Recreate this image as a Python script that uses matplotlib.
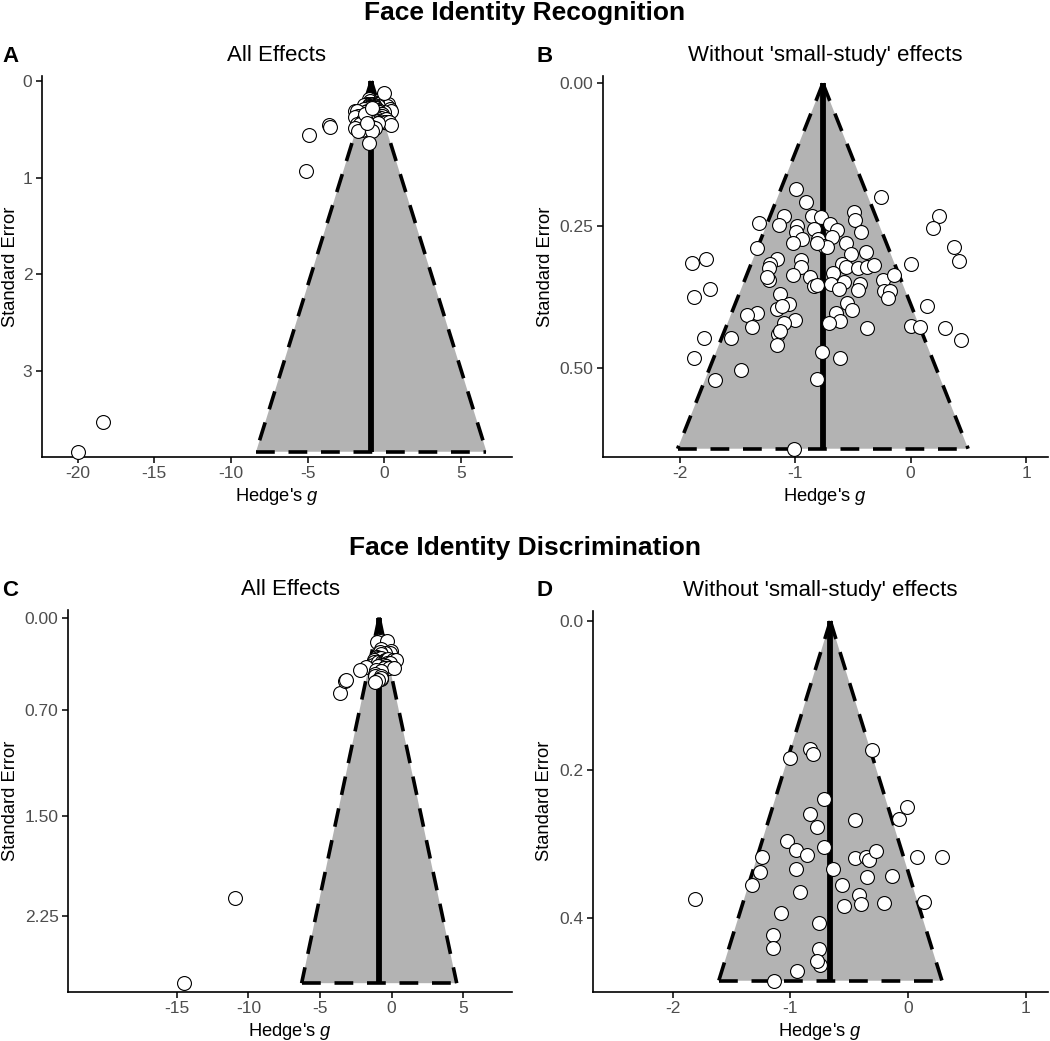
import numpy as np
import matplotlib
matplotlib.use("Agg")
import matplotlib.pyplot as plt

plt.rcParams["font.family"] = "Liberation Sans"
plt.rcParams["mathtext.fontset"] = "custom"
plt.rcParams["mathtext.rm"] = "Liberation Sans"
plt.rcParams["mathtext.it"] = "Liberation Sans:italic"

# Face identity recognition, effects kept after small-study removal (panel B)
b_g = [-0.99, -0.91, -0.26, 0.25, 0.19, -0.49, -0.48, -0.43, -1.10, -1.14,
       -1.31, -0.85, -0.78, -0.98, -0.99, -0.84, -0.70, -0.64, -0.68, -0.80,
       -0.94, -1.02, -0.75, -0.72, -0.56, -1.33, 0.38, 0.42, 0.00, -0.39,
       -0.52, -0.59, -0.56, -0.46, -0.38, -0.32, -0.95, -0.95, -1.16, -1.22,
       -1.23, -1.23, -1.89, -1.77, -1.02, -0.87, -0.84, -0.81, -0.67, -0.69,
       -0.58, -0.62, -0.44, -0.46, -0.24, -0.14, -0.23, -0.18, -0.20, -1.74,
       -1.88, -1.13, -1.05, -1.16, -1.11, -0.55, -0.51, -0.65, -0.61, -0.71,
       -1.00, -1.10, -1.33, -1.42, -1.37, 0.14, 0.00, 0.08, 0.30, 0.44,
       -0.38, -1.15, -1.16, -1.79, -1.56, -1.88, -0.77, -0.61, -1.47, -1.69,
       -0.81, -1.01, -1.24, -0.81, -1.13]
b_se = [0.185, 0.209, 0.200, 0.233, 0.255, 0.226, 0.240, 0.261, 0.233, 0.249,
        0.245, 0.233, 0.234, 0.250, 0.262, 0.256, 0.247, 0.257, 0.270, 0.273,
        0.273, 0.280, 0.285, 0.288, 0.281, 0.290, 0.288, 0.312, 0.317, 0.297,
        0.300, 0.317, 0.322, 0.324, 0.322, 0.319, 0.311, 0.322, 0.308, 0.317,
        0.324, 0.345, 0.315, 0.309, 0.337, 0.340, 0.356, 0.355, 0.334, 0.352,
        0.349, 0.362, 0.352, 0.363, 0.345, 0.337, 0.365, 0.365, 0.378, 0.362,
        0.375, 0.370, 0.388, 0.396, 0.392, 0.386, 0.399, 0.403, 0.417, 0.421,
        0.415, 0.421, 0.403, 0.407, 0.428, 0.392, 0.426, 0.428, 0.429, 0.451,
        0.430, 0.440, 0.460, 0.448, 0.448, 0.482, 0.472, 0.482, 0.504, 0.521,
        0.519, 0.642, 0.341, 0.281, 0.435]
# extra effects only present in "All Effects" (panel A)
a_extra_g = [-0.05, -3.61, -3.57, -4.89, -5.11, -18.37, -20.0]
a_extra_se = [0.12, 0.455, 0.48, 0.559, 0.931, 3.53, 3.835]

# Face identity discrimination (panel D)
d_g = [-0.83, -0.81, -1.00, -0.31, -0.71, -0.01, -0.08, -0.45, -0.83, -0.77,
       -1.03, -0.95, -0.86, -0.71, -1.24, -1.26, -1.33, -0.95, -0.64, -0.45,
       -0.36, -0.33, -0.27, 0.08, 0.29, -0.35, -0.14, -0.56, -0.92, -0.42,
       -0.40, -0.54, -0.20, 0.14, -1.81, -1.08, -0.76, -1.15, -1.15, -0.76,
       -0.75, -0.77, -0.94, -1.14]
d_se = [0.172, 0.179, 0.184, 0.174, 0.239, 0.250, 0.266, 0.268, 0.260, 0.277,
        0.296, 0.308, 0.315, 0.304, 0.317, 0.338, 0.355, 0.333, 0.333, 0.319,
        0.317, 0.322, 0.309, 0.317, 0.318, 0.345, 0.343, 0.355, 0.365, 0.368,
        0.381, 0.384, 0.379, 0.378, 0.374, 0.393, 0.406, 0.423, 0.440, 0.441,
        0.463, 0.458, 0.471, 0.484]
# extra effects only present in "All Effects" (panel C)
c_extra_g = [-3.61, -3.26, -3.15, -2.21, -10.91, -14.47]
c_extra_se = [0.566, 0.478, 0.47, 0.395, 2.115, 2.761]

# pooled estimates
mean_a = -0.85
mean_b = -0.76
mean_c = -0.87
mean_d = -0.66

a_g = b_g + a_extra_g
a_se = b_se + a_extra_se
c_g = d_g + c_extra_g
c_se = d_se + c_extra_se


def funnel(ax, g, se, mean, title, xlim, ylim, xticks, xlabels, yticks, ylabels, ylab_x):
    se_max = max(se)
    half = 1.96 * se_max
    ax.fill([mean, mean - half, mean + half], [0, se_max, se_max],
            color="#b3b3b3", lw=0, zorder=1)
    dash = dict(color="black", lw=2.6, ls=(0, (5.2, 3.8)), zorder=2)
    ax.plot([mean, mean - half], [0, se_max], **dash)
    ax.plot([mean, mean + half], [0, se_max], **dash)
    ax.plot([mean - half, mean + half], [se_max, se_max], **dash)
    ax.plot([mean, mean], [0, se_max], color="black", lw=4.2,
            solid_capstyle="butt", zorder=3)
    ax.scatter(g, se, s=100, facecolor="white", edgecolor="black",
               linewidth=0.8, zorder=4, clip_on=False)

    ax.set_xlim(xlim)
    ax.set_ylim(ylim)
    ax.set_xticks(xticks)
    ax.set_xticklabels(xlabels)
    ax.set_yticks(yticks)
    ax.set_yticklabels(ylabels)
    for s in ["top", "right"]:
        ax.spines[s].set_visible(False)
    for s in ["left", "bottom"]:
        ax.spines[s].set_linewidth(1.2)
    ax.tick_params(length=4, width=1.1, pad=3, labelsize=12.5, labelcolor="#4d4d4d")
    ax.set_title(title, fontsize=16, pad=10.8)
    ax.set_xlabel("Hedge's $\\mathit{g}$", fontsize=13.2, labelpad=3)
    ax.set_ylabel("Standard Error", fontsize=13.2)
    ax.yaxis.set_label_coords(ylab_x, 0.5)


fig = plt.figure(figsize=(10.5, 10.41), dpi=100)

ax_a = fig.add_axes([0.040, 0.5613, 0.4476, 0.3657])
ax_b = fig.add_axes([0.574, 0.5613, 0.4241, 0.3657])
ax_c = fig.add_axes([0.065, 0.0474, 0.4226, 0.3667])
ax_d = fig.add_axes([0.5645, 0.0474, 0.4336, 0.3660])

funnel(ax_a, a_g, a_se, mean_a, "All Effects",
       (-22.33, 8.33), (3.886, -0.052),
       [-20, -15, -10, -5, 0, 5], ["-20", "-15", "-10", "-5", "0", "5"],
       [0, 1, 2, 3], ["0", "1", "2", "3"], -0.049)
funnel(ax_b, b_g, b_se, mean_b, "Without 'small-study' effects",
       (-2.667, 1.19), (0.656, -0.013),
       [-2, -1, 0, 1], ["-2", "-1", "0", "1"],
       [0, 0.25, 0.5], ["0.00", "0.25", "0.50"], -0.110)
funnel(ax_c, c_g, c_se, mean_c, "All Effects",
       (-22.57, 8.4), (2.825, -0.058),
       [-15, -10, -5, 0, 5], ["-15", "-10", "-5", "0", "5"],
       [0, 0.7, 1.5, 2.25], ["0.00", "0.70", "1.50", "2.25"], -0.112)
funnel(ax_d, d_g, d_se, mean_d, "Without 'small-study' effects",
       (-2.68, 1.19), (0.4987, -0.014),
       [-2, -1, 0, 1], ["-2", "-1", "0", "1"],
       [0, 0.2, 0.4], ["0.0", "0.2", "0.4"], -0.088)

fig.text(0.5, 1 - 20 / 1041, "Face Identity Recognition", ha="center",
         va="baseline", fontsize=19, fontweight="bold")
fig.text(0.5, 1 - 555 / 1041, "Face Identity Discrimination", ha="center",
         va="baseline", fontsize=19, fontweight="bold")

for x, y, lab in [(2, 61.7, "A"), (536.7, 61.7, "B"), (2, 596, "C"), (536.7, 596, "D")]:
    fig.text(x / 1050, 1 - y / 1041, lab, ha="left", va="baseline",
             fontsize=16, fontweight="bold")

fig.savefig("out.png", dpi=100)
